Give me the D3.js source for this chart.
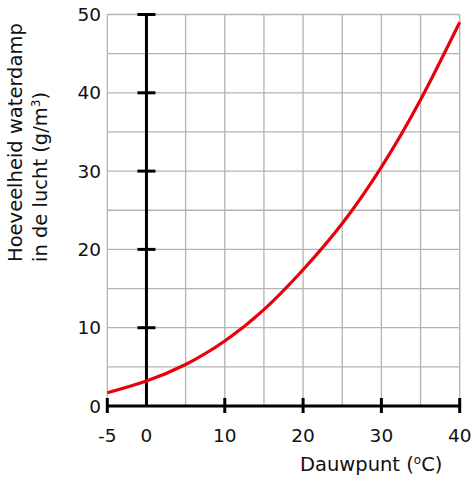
<!DOCTYPE html>
<html>
<head>
<meta charset="utf-8">
<script src="https://cdn.jsdelivr.net/npm/d3@7"></script>
<style>
  body { margin: 0; background: #fff; }
  text { font-family: "DejaVu Sans", sans-serif; fill: #111; }
  .grid line { stroke: #b3b3b3; stroke-width: 1.3; }
</style>
</head>
<body>
<script>
// values
var dewPoint = [-5, 0, 5, 10, 15, 20, 25, 30, 35, 40];
var vapour = [1.7, 3.2, 5.3, 8.3, 12.3, 17.4, 23.3, 30.5, 39.1, 49.0];
var xTicks = [-5, 0, 10, 20, 30, 40];
var yTicks = [0, 10, 20, 30, 40, 50];
var gridX = d3.range(-5, 41, 5);
var gridY = d3.range(0, 51, 5);

var width = 474, height = 481;

var svg = d3.select("body").append("svg")
  .attr("width", width)
  .attr("height", height);

var x = d3.scaleLinear().domain([-5, 40]).range([107.3, 459.7]);
var y = d3.scaleLinear().domain([0, 50]).range([406, 14.5]);

// grid
var grid = svg.append("g").attr("class", "grid");
grid.selectAll(".gx").data(gridX).enter().append("line")
  .attr("x1", d => x(d)).attr("x2", d => x(d))
  .attr("y1", y(0)).attr("y2", y(50));
grid.selectAll(".gy").data(gridY).enter().append("line")
  .attr("x1", x(-5)).attr("x2", x(40))
  .attr("y1", d => y(d)).attr("y2", d => y(d));

// x axis (thick line with ticks both sides)
var xAxis = svg.append("g").attr("transform", "translate(0," + y(0) + ")");
xAxis.append("line")
  .attr("x1", x(-5) - 1).attr("x2", x(40) + 1)
  .attr("stroke", "#000").attr("stroke-width", 3);
xAxis.selectAll(".tick").data(xTicks.filter(d => d != 0)).enter().append("line")
  .attr("x1", d => x(d)).attr("x2", d => x(d))
  .attr("y1", -8).attr("y2", 7)
  .attr("stroke", "#000").attr("stroke-width", 3);
xAxis.selectAll("text").data(xTicks).enter().append("text")
  .attr("x", d => x(d))
  .attr("y", 36)
  .attr("text-anchor", "middle")
  .style("font-size", "18.5px")
  .text(d => d);

// vertical axis at x = 0
var yAxis = svg.append("g");
yAxis.append("line")
  .attr("x1", x(0)).attr("x2", x(0))
  .attr("y1", y(0)).attr("y2", y(50))
  .attr("stroke", "#000").attr("stroke-width", 3);
yAxis.selectAll(".tick").data(yTicks.filter(d => d != 0)).enter().append("line")
  .attr("x1", x(0) - 9).attr("x2", x(0) + 9)
  .attr("y1", d => y(d)).attr("y2", d => y(d))
  .attr("stroke", "#000").attr("stroke-width", 3);
yAxis.selectAll("text").data(yTicks).enter().append("text")
  .attr("x", 101)
  .attr("y", d => y(d))
  .attr("dy", "0.36em")
  .attr("text-anchor", "end")
  .style("font-size", "18.5px")
  .text(d => d);

// curve
var line = d3.line()
  .x((d, i) => x(dewPoint[i]))
  .y(d => y(d))
  .curve(d3.curveNatural);

svg.append("path")
  .datum(vapour)
  .attr("d", line)
  .attr("fill", "none")
  .attr("stroke", "#e8000b")
  .attr("stroke-width", 3.2);

// axis titles
var xt = svg.append("text")
  .attr("x", 300)
  .attr("y", 471)
  .style("font-size", "19.5px");
xt.append("tspan").text("Dauwpunt (");
xt.append("tspan").attr("dy", -7).style("font-size", "12px").text("o");
xt.append("tspan").attr("dy", 7).text("C)");

var yt = svg.append("text")
  .attr("transform", "translate(22,262) rotate(-90)")
  .style("font-size", "19.5px");
yt.append("tspan").attr("x", 0).attr("y", 0).text("Hoeveelheid waterdamp");
yt.append("tspan").attr("x", 0).attr("y", 25).text("in de lucht (g/m");
yt.append("tspan").attr("dy", -7).style("font-size", "12px").text("3");
yt.append("tspan").attr("dy", 7).text(")");
</script>
</body>
</html>
